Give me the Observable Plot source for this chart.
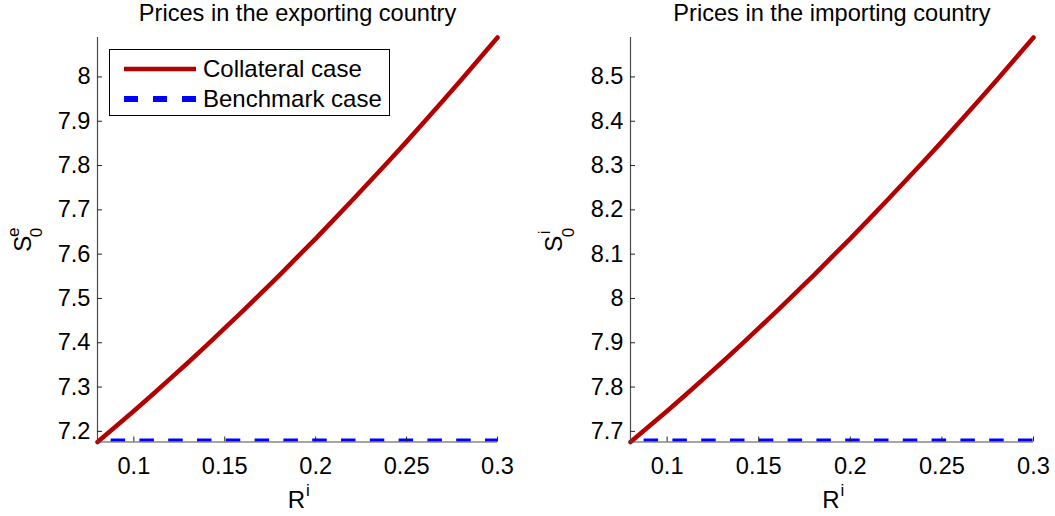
<!DOCTYPE html>
<html>
<head>
<meta charset="utf-8">
<script src="https://cdn.jsdelivr.net/npm/d3@7"></script>
<script src="https://cdn.jsdelivr.net/npm/@observablehq/plot@0.6"></script>
<style>
  html, body { margin: 0; padding: 0; background: #fff; overflow: hidden; }
  #wrap { position: relative; width: 1055px; height: 516px; display: flex; }
  #wrap svg { display: block; flex: none; }
  #legend { position: absolute; left: 109px; top: 49px; width: 279px; height: 65px;
    border: 1px solid #000; background: #fff;
    font-family: "Liberation Sans", Arial, sans-serif; font-size: 24px; color: #000; }
  #legend .row { position: absolute; left: 0; height: 30px; width: 100%; }
  #legend .row svg { position: absolute; left: 14px; top: 0; }
  #legend .row span { position: absolute; left: 93px; top: 1px; line-height: 28px; white-space: nowrap; }
</style>
</head>
<body>
<div id="wrap">
  <div id="legend"></div>
</div>
<script>
// ---------- data ----------
const ri = [0.08, 0.09, 0.10, 0.11, 0.12, 0.13, 0.14, 0.15, 0.16, 0.17, 0.18, 0.19,
            0.20, 0.21, 0.22, 0.23, 0.24, 0.25, 0.26, 0.27, 0.28, 0.29, 0.30];

const exportCollateral = [7.176, 7.211, 7.246, 7.282, 7.319, 7.356, 7.394, 7.433, 7.472, 7.512, 7.552, 7.594,
                          7.635, 7.678, 7.721, 7.765, 7.809, 7.854, 7.900, 7.946, 7.993, 8.041, 8.089];
const exportBenchmark  = [7.176, 7.176, 7.176, 7.176, 7.176, 7.176, 7.176, 7.176, 7.176, 7.176, 7.176, 7.176,
                          7.176, 7.176, 7.176, 7.176, 7.176, 7.176, 7.176, 7.176, 7.176, 7.176, 7.176];

const importCollateral = [7.676, 7.711, 7.746, 7.782, 7.819, 7.856, 7.894, 7.933, 7.972, 8.012, 8.052, 8.094,
                          8.135, 8.178, 8.221, 8.265, 8.309, 8.354, 8.400, 8.446, 8.493, 8.541, 8.589];
const importBenchmark  = [7.676, 7.676, 7.676, 7.676, 7.676, 7.676, 7.676, 7.676, 7.676, 7.676, 7.676, 7.676,
                          7.676, 7.676, 7.676, 7.676, 7.676, 7.676, 7.676, 7.676, 7.676, 7.676, 7.676];

const xTicks = [0.1, 0.15, 0.2, 0.25, 0.3];
const xTickLabels = ["0.1", "0.15", "0.2", "0.25", "0.3"];
const exportYTicks = [7.2, 7.3, 7.4, 7.5, 7.6, 7.7, 7.8, 7.9, 8];
const importYTicks = [7.7, 7.8, 7.9, 8, 8.1, 8.2, 8.3, 8.4, 8.5];

const titles = ["Prices in the exporting country", "Prices in the importing country"];
const seriesNames = ["Collateral case", "Benchmark case"];
const xLabel = ["R", "i"];
const yLabels = [["S", "e", "0"], ["S", "i", "0"]];

// ---------- drawing ----------
const FONT = '"Liberation Sans", Arial, Helvetica, sans-serif';
const RED = "#b40000", BLUE = "#0000ff", AXIS = "#4d4d4d";
const H = 516, MT = 37, MB = 74.5;
const FS = 23.6;

function makePanel(o) {
  const coll = ri.map((x, i) => ({x, y: o.coll[i]}));
  const bench = ri.map((x, i) => ({x, y: o.bench[i]}));
  const xDom = d3.extent(ri);
  const yDom = d3.extent([...o.coll, ...o.bench]);
  const lab = o.ylab;
  const T = {textAnchor: "middle", lineAnchor: "middle", fill: "#000"};
  return Plot.plot({
    width: o.width, height: H,
    marginTop: MT, marginBottom: MB, marginLeft: o.ml, marginRight: o.mr,
    style: {fontFamily: FONT, fontSize: FS + "px", color: "#000", background: "#fff", overflow: "visible"},
    x: {domain: xDom},
    y: {domain: yDom},
    marks: [
      Plot.line(bench, {x: "x", y: "y", stroke: BLUE, strokeWidth: 7, strokeLinecap: "butt",
        strokeDasharray: "14.5,14.3", strokeDashoffset: 15.7, clip: true}),
      Plot.line(coll, {x: "x", y: "y", stroke: RED, strokeWidth: 4.5}),
      Plot.ruleX([xDom[0]], {stroke: AXIS, strokeWidth: 1.2}),
      Plot.ruleY([yDom[0]], {stroke: AXIS, strokeWidth: 1.2}),
      Plot.axisY({ticks: o.yTicks, tickSize: -5, tickPadding: 12, stroke: "#222",
        fontSize: FS, fill: "#000", tickFormat: d => String(d), label: null}),
      Plot.axisX({ticks: xTicks, tickSize: -5, tickPadding: 20, stroke: "#222",
        fontSize: FS, fill: "#000", tickFormat: (d, i) => xTickLabels[i], label: null}),
      Plot.text([o.title], {frameAnchor: "top", dy: -24.5, fontSize: FS, ...T}),
      Plot.text([xLabel[0]], {frameAnchor: "bottom", dx: -1, dy: 58.5, fontSize: 24, ...T}),
      Plot.text([xLabel[1]], {frameAnchor: "bottom", dx: 10.5, dy: 48.5, fontSize: 17, ...T}),
      Plot.text([lab[0]], {frameAnchor: "left", rotate: -90, dx: o.sdx, dy: 4, fontSize: 24, ...T}),
      Plot.text([lab[1]], {frameAnchor: "left", rotate: -90, dx: o.sdx - 9.5, dy: -7.5, fontSize: 17, ...T}),
      Plot.text([lab[2]], {frameAnchor: "left", rotate: -90, dx: o.sdx + 14, dy: -7.3, fontSize: 17, ...T})
    ]
  });
}

const wrap = document.getElementById("wrap");
wrap.insertBefore(makePanel({width: 527, ml: 97, mr: 30, coll: exportCollateral, bench: exportBenchmark,
  yTicks: exportYTicks, title: titles[0], ylab: yLabels[0], sdx: -74.5}), wrap.firstChild);
wrap.insertBefore(makePanel({width: 528, ml: 103, mr: 22, coll: importCollateral, bench: importBenchmark,
  yTicks: importYTicks, title: titles[1], ylab: yLabels[1], sdx: -76}), document.getElementById("legend"));

// legend
const legend = document.getElementById("legend");
const styles = [{stroke: RED, width: 4.5, dash: null}, {stroke: BLUE, width: 6, dash: "14,15"}];
const rowTops = [3.7, 34.3];
seriesNames.forEach((name, i) => {
  const row = document.createElement("div");
  row.className = "row";
  row.style.top = rowTops[i] + "px";
  const s = styles[i];
  row.innerHTML = `<svg width="72" height="30"><line x1="0" x2="72" y1="15" y2="15" stroke="${s.stroke}" stroke-width="${s.width}" ${s.dash ? `stroke-dasharray="${s.dash}"` : ""}/></svg><span>${name}</span>`;
  legend.appendChild(row);
});
</script>
</body>
</html>
